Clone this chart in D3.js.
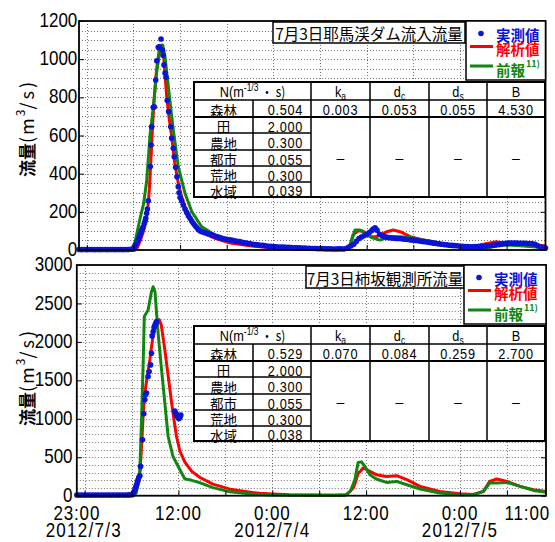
<!DOCTYPE html>
<html><head><meta charset="utf-8">
<script src="https://cdn.jsdelivr.net/npm/d3@7"></script>
<style>
body{margin:0;background:#fff;}
svg{display:block;}
</style></head><body>
<svg id="chart" width="555" height="542"></svg>
<script>
// ---------------- DATA ----------------
const xTickHours = [0, 13, 25, 37, 49, 60];
const xTickLabels = ["23:00", "12:00", "0:00", "12:00", "0:00", "11:00"];
const dateHours = [0, 25, 49];
const dateLabels = ["2012/7/3", "2012/7/4", "2012/7/5"];
const gridHours = [1, 7, 13, 19, 25, 31, 37, 43, 49, 55];
const topYTicks = [0, 200, 400, 600, 800, 1000, 1200];
const botYTicks = [0, 500, 1000, 1500, 2000, 2500, 3000];

const topTitle = "7月3日耶馬渓ダム流入流量";
const botTitle = "7月3日柿坂観測所流量";
const legendLabels = ["実測値", "解析値", "前報"];
const legendSup = "11)";

const landUse = ["森林", "田", "農地", "都市", "荒地", "水域"];
const paramNames = [["k", "a"], ["d", "c"], ["d", "s"], ["B", ""]];
const topN = ["0.504", "2.000", "0.300", "0.055", "0.300", "0.039"];
const topParams = ["0.003", "0.053", "0.055", "4.530"];
const botN = ["0.529", "2.000", "0.300", "0.055", "0.300", "0.038"];
const botParams = ["0.070", "0.084", "0.259", "2.700"];

// observed (minutes from 23:00, m3/s)
const obsTop = [[0,3],[20,2],[40,3],[60,2],[80,3],[100,3],[120,2],[140,3],[160,2],[180,3],[200,3],[220,2],[240,3],[260,3],[280,2],[300,3],[320,3],[340,2],[360,3],[380,3],[400,4],[420,5],
[425,8],[432,21],[440,30],[450,42],[458,56],[465,68],[471,79],[478,92],[484,105],[490,114],[496,122],[504,140],[510,152],[515,166],[522,192],[528,215],[535,258],[550,437],[556,550],[561,646],[573,748],[581,750],[592,891],[600,992],[612,1062],[620,1065],[633,1106],[643,1048],[650,1020],[656,970],[664,927],[672,905],[681,783],[692,725],[708,646],[715,585],[728,533],[735,489],[746,433],[756,384],[766,332],[772,300],[780,275],[792,258],[805,236],[818,215],[831,196],[844,180],[857,166],[870,152],[882,140],[895,128],[908,118],[921,108],[935,100],[950,95],[972,91],[990,86],[1010,82],[1024,79],[1040,76],[1060,70],[1080,66],[1101,61],[1120,58],[1140,56],[1160,54],[1178,52],[1200,48],[1220,45],[1240,44],[1260,40],[1280,38],[1300,35],[1320,34],[1340,30],[1360,28],[1380,27],[1400,25],[1420,24],[1440,22],[1460,20],[1480,20],[1500,18],[1520,17],[1540,16],[1560,16],[1580,15],[1600,14],[1620,14],[1640,13],[1660,12],[1680,12],[1700,11],[1720,10],[1740,10],[1760,9],[1780,9],[1800,8],[1820,8],[1840,7],[1860,7],[1880,7],[1900,6],[1920,6],[1940,6],[1960,5],[1980,5],[2000,6],[2020,6],[2040,5],[2060,8],[2080,14],[2100,22],[2120,30],[2140,45],[2160,60],[2180,68],[2200,75],[2220,82],[2240,92],[2260,102],[2270,110],[2285,116],[2300,104],[2320,82],[2340,75],[2360,70],[2380,66],[2400,64],[2420,62],[2440,61],[2460,60],[2480,60],[2500,58],[2520,56],[2540,55],[2560,53],[2580,52],[2600,50],[2620,48],[2640,46],[2660,44],[2680,42],[2700,40],[2720,38],[2740,36],[2760,34],[2780,32],[2800,30],[2820,28],[2840,27],[2860,25],[2880,24],[2900,23],[2920,22],[2940,20],[2960,19],[2980,18],[3000,18],[3020,17],[3040,17],[3060,18],[3080,18],[3100,19],[3120,20],[3140,21],[3160,22],[3180,23],[3200,25],[3220,28],[3240,30],[3260,32],[3280,34],[3300,35],[3320,36],[3340,36],[3360,36],[3380,36],[3400,35],[3420,35],[3440,35],[3460,34],[3480,34],[3500,33],[3520,30],[3540,22],[3560,16],[3580,12],[3600,10]];

// simulated (hours from 23:00, m3/s)
const calcTop = [[0,0],[7.2,0],[7.5,12],[7.9,50],[8.3,100],[8.6,150],[8.85,220],[9.05,320],[9.25,470],[9.45,640],[9.65,780],[9.85,890],[10.05,970],[10.3,1040],[10.64,1074],[10.9,1010],[11.28,803],[11.6,690],[11.92,594],[12.3,460],[12.77,350],[13.2,280],[13.63,227],[14.5,157],[15.1,120],[15.78,96],[16.6,78],[17.5,61],[18.5,48],[19.64,35],[21,27],[22.5,20],[24,15],[26,11],[28,8],[30,6],[32,5],[34.4,4],[34.9,25],[35.24,79],[35.9,100],[36.5,100],[37.4,70],[38.3,70],[39.6,96],[40.4,105],[41.3,96],[42.6,70],[44,55],[45.5,44],[47.2,30],[49,17],[50.3,18],[51.6,26],[52.7,36],[53.7,44],[54.3,36],[55,30],[56.7,28],[58.4,26],[60,22]];
const prevTop = [[0,0],[6.7,0],[7.2,40],[7.85,165],[8.3,240],[8.7,360],[9.13,600],[9.56,750],[10.0,935],[10.42,1048],[10.77,1074],[11.06,1013],[11.49,856],[12.13,629],[12.77,437],[13.63,297],[14.5,201],[15.78,122],[17.5,79],[19.64,52],[21,40],[22.5,30],[24,22],[26,15],[28,10],[30,8],[32,6],[34.4,5],[34.9,30],[35.5,105],[36.14,105],[36.8,87],[37.65,65],[38.7,52],[40,70],[41.3,70],[42.96,63],[44.2,52],[45.5,44],[47.5,25],[49.9,12],[52.4,12],[53.6,20],[55,26],[56.7,22],[58.4,17],[60,12]];

const obsBot = [[0,10],[20,10],[40,9],[60,10],[80,10],[100,9],[120,10],[140,10],[160,9],[180,10],[200,10],[220,9],[240,10],[260,10],[280,9],[300,10],[320,10],[340,9],[360,10],[380,10],[400,11],[420,13],[435,40],[445,78],[452,110],[458,143],[465,180],[470,208],[476,240],[484,260],[489,381],[504,727],[514,1065],[522,1247],[527,1312],[535,1334],[547,1550],[555,1614],[566,1701],[573,1853],[578,2078],[586,2134],[593,2190],[599,2215],[606,2242],[612,2264],[752,1100],[758,1075],[764,1050],[770,1040],[776,1020],[782,1005],[788,1010],[794,1030],[798,1050]];
const calcBot = [[0,0],[7.0,0],[7.3,10],[7.64,78],[7.9,165],[8.1,330],[8.28,640],[8.5,1074],[8.7,1334],[9.0,1550],[9.34,1766],[9.76,2091],[10.2,2264],[10.53,2290],[10.8,2221],[11.26,1896],[11.8,1464],[12.3,1074],[12.75,770],[13.2,575],[13.8,440],[14.7,316],[15.7,240],[17.4,150],[19.6,85],[20.9,65],[22.6,40],[23.4,32],[25,22],[27.2,13],[30,8],[33,5],[34.5,13],[35.35,100],[35.6,165],[35.98,295],[36.2,310],[36.6,360],[37.0,345],[37.48,316],[38.3,273],[39.6,251],[40.9,260],[42.2,208],[43.9,121],[46.4,56],[49,26],[50.7,15],[52.0,56],[52.8,186],[53.7,217],[55.0,186],[56.7,121],[58.4,78],[60,56]];
const prevBot = [[0,0],[7.3,0],[7.6,35],[8.0,250],[8.06,338],[8.28,987],[8.5,1766],[8.63,2330],[9.12,2416],[9.55,2653],[9.76,2718],[10.0,2653],[10.2,2373],[10.4,2113],[10.8,1679],[11.26,1204],[11.68,770],[12.3,510],[13.2,335],[13.8,220],[14.7,200],[15.7,170],[17.4,105],[19.6,50],[22.6,18],[25,10],[30,5],[34.3,5],[35.0,60],[35.56,208],[35.98,433],[36.4,440],[36.84,381],[37.48,273],[38.3,217],[39.6,173],[40.9,186],[42.2,143],[43.9,87],[46.4,35],[49.0,13],[50.7,13],[52.0,56],[52.8,165],[53.7,165],[55.0,173],[56.7,121],[58.4,69],[60,43]];

// ---------------- STYLE ----------------
const BLUE = "#0a14d6", RED = "#ff0000", GREEN = "#0f860f";
const FNUM = "'Liberation Sans',Arial,sans-serif";
const FJP = "'Noto Sans CJK JP','Noto Sans',sans-serif";
const SQ = 0.85; // horizontal squeeze for the narrow numeric font

const svg = d3.select("#chart");
svg.append("rect").attr("width", 555).attr("height", 542).attr("fill", "#fff");

function narrowText(g, x, y, txt, size, anchor, ls) {
  return g.append("text").attr("transform", `translate(${x},${y}) scale(${SQ},1)`)
    .attr("text-anchor", anchor).attr("font-family", FNUM).attr("font-size", size)
    .attr("letter-spacing", ls || 0).attr("fill", "#000").text(txt);
}

function drawPanel(p) {
  const x = d3.scaleLinear().domain([0, 60]).range([p.x0, p.x1]);
  const y = d3.scaleLinear().domain([0, p.yMax]).range([p.yBot, p.yTop]);
  const g = svg.append("g");

  // grid
  g.append("g").selectAll("line").data(d3.range(p.gridStep, p.yMax, p.gridStep)).join("line")
    .attr("x1", p.x0).attr("x2", p.x1)
    .attr("y1", d => Math.round(y(d)) + 0.5).attr("y2", d => Math.round(y(d)) + 0.5)
    .attr("stroke", "#777").attr("stroke-width", 1).attr("stroke-dasharray", "1,2");
  g.append("g").selectAll("line").data(gridHours).join("line")
    .attr("x1", d => Math.round(x(d)) + 0.5).attr("x2", d => Math.round(x(d)) + 0.5)
    .attr("y1", p.yTop).attr("y2", p.yBot)
    .attr("stroke", "#777").attr("stroke-width", 1).attr("stroke-dasharray", "1,2");

  const line = d3.line().x(d => x(d[0])).y(d => y(d[1]));
  g.append("path").datum(p.calc).attr("d", line).attr("fill", "none")
    .attr("stroke", RED).attr("stroke-width", 3).attr("stroke-linejoin", "round");
  g.append("path").datum(p.prev).attr("d", line).attr("fill", "none")
    .attr("stroke", GREEN).attr("stroke-width", 3).attr("stroke-linejoin", "round");
  g.append("g").selectAll("circle").data(p.obs).join("circle")
    .attr("cx", d => x(d[0] / 60)).attr("cy", d => y(d[1])).attr("r", 2.8).attr("fill", BLUE);

  // frame
  g.append("rect").attr("x", p.x0).attr("y", p.yTop).attr("width", p.x1 - p.x0).attr("height", p.yBot - p.yTop)
    .attr("fill", "none").attr("stroke", "#000").attr("stroke-width", 1.8);

  // axes
  const ya = g.append("g").attr("transform", `translate(${p.x0},0)`)
    .call(d3.axisLeft(y).tickValues(p.yTicks).tickFormat(d3.format("d"))
      .tickSizeInner(-5).tickSizeOuter(0).tickPadding(p.pad));
  ya.select(".domain").remove();
  ya.selectAll("text").attr("font-family", FNUM).attr("font-size", 20).attr("fill", "#000")
    .attr("dy", "0.28em").attr("transform", `scale(${SQ},1)`);
  const yr = g.append("g").attr("transform", `translate(${p.x1},0)`)
    .call(d3.axisRight(y).tickValues(p.yTicks).tickSizeInner(-5).tickSizeOuter(0).tickFormat(""));
  yr.select(".domain").remove();
  const xb = g.append("g").attr("transform", `translate(0,${p.yBot})`)
    .call(d3.axisBottom(x).tickValues(gridHours).tickSizeInner(-5).tickSizeOuter(0).tickFormat(""));
  xb.select(".domain").remove();

  // y title
  const yt = g.append("text").attr("transform", `translate(26,${p.yMid}) rotate(-90)`)
    .attr("text-anchor", "middle").attr("dominant-baseline", "central")
    .attr("font-family", FJP).attr("fill", "#000");
  yt.append("tspan").text("流量").attr("font-size", 17).attr("font-weight", "bold");
  yt.append("tspan").text("(m").attr("font-size", 18).attr("letter-spacing", 2);
  yt.append("tspan").text("3").attr("font-size", 12).attr("dy", -7);
  yt.append("tspan").text("/s)").attr("font-size", 18).attr("dy", 7).attr("letter-spacing", 3);

  // title box
  g.append("rect").attr("x", p.tb[0]).attr("y", p.tb[1]).attr("width", p.tb[2]).attr("height", p.tb[3])
    .attr("fill", "#fff").attr("stroke", "#000").attr("stroke-width", 1.5);
  g.append("text").attr("x", p.tb[0] + p.tb[2] / 2).attr("y", p.tb[1] + p.tb[3] / 2 + 0.5)
    .attr("text-anchor", "middle").attr("dominant-baseline", "central")
    .attr("font-family", FJP).attr("font-size", 15.5).attr("fill", "#000").text(p.title);

  // legend box
  const lb = p.lb;
  g.append("rect").attr("x", lb[0]).attr("y", lb[1]).attr("width", lb[2]).attr("height", lb[3])
    .attr("fill", "#fff").attr("stroke", "#000").attr("stroke-width", 1.5);
  const lx = lb[0];
  g.append("circle").attr("cx", lx + 15).attr("cy", lb[1] + 12.5).attr("r", 2.8).attr("fill", BLUE);
  g.append("line").attr("x1", lx + 4).attr("x2", lx + 27).attr("y1", lb[1] + 25.5).attr("y2", lb[1] + 25.5)
    .attr("stroke", RED).attr("stroke-width", 3);
  g.append("line").attr("x1", lx + 4).attr("x2", lx + 27).attr("y1", lb[1] + 45).attr("y2", lb[1] + 45)
    .attr("stroke", GREEN).attr("stroke-width", 3);
  const legY = [13, 27, 48], legC = [BLUE, RED, GREEN];
  legendLabels.forEach((t, i) => {
    const tx = g.append("text").attr("x", lx + 30).attr("y", lb[1] + legY[i])
      .attr("dominant-baseline", "central").attr("font-family", FJP).attr("font-size", 14.5)
      .attr("font-weight", "bold").attr("fill", legC[i]);
    tx.append("tspan").text(t);
    if (i === 2) tx.append("tspan").text(legendSup).attr("font-size", 9).attr("dy", -6).attr("dx", 1);
  });

  // table
  const t = p.table;
  const cx = [0, 59, 117, 176, 235, 293, 351].map(v => t.x + v);
  const ry = [0, 18, 35, 51, 68, 84, 100, 115].map(v => t.y + v);
  const tg = g.append("g");
  tg.append("rect").attr("x", cx[0]).attr("y", ry[0]).attr("width", cx[6] - cx[0]).attr("height", ry[7] - ry[0])
    .attr("fill", "#fff");
  const L = (x1, y1, x2, y2, w) => tg.append("line").attr("x1", x1).attr("y1", y1).attr("x2", x2).attr("y2", y2)
    .attr("stroke", "#000").attr("stroke-width", w);
  L(cx[0], ry[1], cx[6], ry[1], 1.5);
  L(cx[0], ry[2], cx[6], ry[2], 2);
  for (let r = 3; r <= 6; r++) L(cx[0], ry[r], cx[2], ry[r], 1.5);
  L(cx[1], ry[1], cx[1], ry[7], 1.5);
  for (let c = 2; c <= 5; c++) L(cx[c], ry[0], cx[c], ry[7], 1.5);
  tg.append("rect").attr("x", cx[0]).attr("y", ry[0]).attr("width", cx[6] - cx[0]).attr("height", ry[7] - ry[0])
    .attr("fill", "none").attr("stroke", "#000").attr("stroke-width", 2);

  const hy = (ry[0] + ry[1]) / 2 + 5.5;
  const hdr = tg.append("text").attr("transform", `translate(${(cx[0] + cx[2]) / 2},${hy}) scale(${SQ},1)`)
    .attr("text-anchor", "middle").attr("font-family", FNUM)
    .attr("font-size", 15).attr("fill", "#000");
  hdr.append("tspan").text("N(m");
  hdr.append("tspan").text("-1/3").attr("font-size", 10).attr("dy", -6);
  hdr.append("tspan").text(" ・ s)").attr("dy", 6).attr("font-family", FJP).attr("font-size", 14);
  paramNames.forEach((pn, i) => {
    const tt = tg.append("text").attr("transform", `translate(${(cx[i + 2] + cx[i + 3]) / 2},${hy}) scale(${SQ},1)`)
      .attr("text-anchor", "middle").attr("font-family", FNUM)
      .attr("font-size", 15).attr("fill", "#000");
    tt.append("tspan").text(pn[0]);
    if (pn[1]) tt.append("tspan").text(pn[1]).attr("font-size", 10).attr("dy", 3);
  });
  landUse.forEach((n, i) => {
    const yc = (ry[i + 1] + ry[i + 2]) / 2 + 1;
    tg.append("text").attr("x", (cx[0] + cx[1]) / 2).attr("y", yc).attr("text-anchor", "middle")
      .attr("dominant-baseline", "central").attr("font-family", FJP).attr("font-size", 13.5).attr("fill", "#000").text(n);
    narrowText(tg, cx[2] - 8, yc + 5.5, t.n[i], 15, "end", 0.8);
  });
  t.params.forEach((v, i) => {
    narrowText(tg, (cx[i + 2] + cx[i + 3]) / 2, (ry[1] + ry[2]) / 2 + 6.5, v, 15, "middle", 0.8);
    tg.append("text").attr("x", (cx[i + 2] + cx[i + 3]) / 2).attr("y", (ry[2] + ry[7]) / 2 + 1)
      .attr("text-anchor", "middle").attr("dominant-baseline", "central").attr("font-family", FNUM)
      .attr("font-size", 14).attr("fill", "#000").text("–");
  });

  // x labels
  if (p.xLabels) {
    xTickHours.forEach((h, i) => {
      const last = i === xTickHours.length - 1;
      narrowText(g, last ? x(h) + 4 : x(h), p.yBot + 24, xTickLabels[i], 20, last ? "end" : "middle", 1);
    });
    dateHours.forEach((h, i) => {
      narrowText(g, x(h) + (i === 0 ? 7 : 0), p.yBot + 41, dateLabels[i], 20, "middle", 1.5);
    });
  }
}

drawPanel({
  x0: 79, x1: 545.5, yTop: 21, yBot: 250, yMax: 1200, gridStep: 50, yTicks: topYTicks, pad: 2, yMid: 128,
  obs: obsTop, calc: calcTop, prev: prevTop, title: topTitle,
  tb: [273, 22, 192, 21], lb: [466, 21, 79.5, 59],
  table: { x: 194, y: 82, n: topN, params: topParams }, xLabels: false
});
drawPanel({
  x0: 76.8, x1: 546, yTop: 265, yBot: 495.7, yMax: 3000, gridStep: 100, yTicks: botYTicks, pad: 5, yMid: 377,
  obs: obsBot, calc: calcBot, prev: prevBot, title: botTitle,
  tb: [306, 266, 158, 22], lb: [464, 265, 82, 59],
  table: { x: 194, y: 326, n: botN, params: botParams }, xLabels: true
});
</script>
</body></html>
